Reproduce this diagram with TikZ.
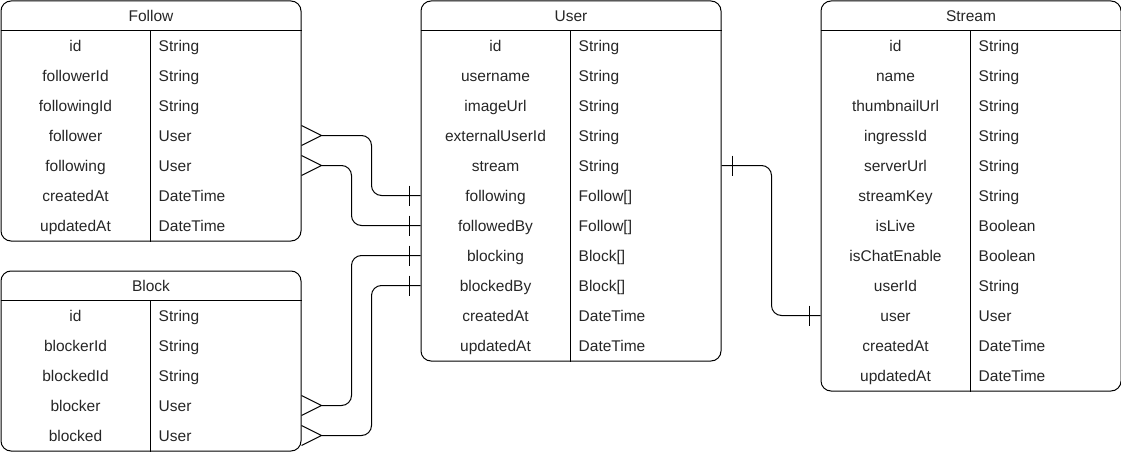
\documentclass[tikz,border=0pt]{standalone}
\usepackage{fontspec}
\setmainfont{Liberation Sans}
\usetikzlibrary{calc}
\tikzset{
  tbl/.style={draw=black, line width=1pt, rounded corners=10pt, minimum width=300pt, inner sep=0pt, anchor=north west},
  txt/.style={inner sep=0pt, anchor=base, yshift=-5.6pt, text=black!85, font=\fontsize{15.5}{18}\selectfont},
  conn/.style={draw=black, line width=1pt, rounded corners=10pt},
  mark1/.style={draw=black, line width=1pt},
}
\newcommand\ertable[5]{%
  \node[tbl, minimum height=#4pt] (#1) at (#3) {};
  \coordinate (#1-r0) at ($(#1.north)+(0,15)$);
  \node[txt] (#1-title) at (#1-r0) {#2};
  \draw[line width=1pt] ($(#1.north west)+(0,30)$) -- ($(#1.north east)+(0,30)$);
  \draw[line width=1pt] ($(#1.north west)+(150,30)$) -- ($(#1.south west)+(150,0)$);
  \foreach \n/\t [count=\i] in {#5} {
    \coordinate (#1-r\i) at ($(#1.north west)+(0,15+30*\i)$);
    \node[txt] (#1-n\i) at ($(#1-r\i)+(75,0)$) {\n};
    \node[txt, anchor=base west] (#1-t\i) at ($(#1-r\i)+(158,0)$) {\t};
  }
}
\begin{document}
\begin{tikzpicture}[x=1pt,y=-1pt]
\useasboundingbox (0,0) rectangle (1121,460);
\ertable{Follow}{Follow}{0.5,0.5}{240}{id/String,followerId/String,followingId/String,follower/User,following/User,createdAt/DateTime,updatedAt/DateTime}
\ertable{Block}{Block}{0.5,270.5}{180}{id/String,blockerId/String,blockedId/String,blocker/User,blocked/User}
\ertable{User}{User}{420.5,0.5}{360}{id/String,username/String,imageUrl/String,externalUserId/String,stream/String,following/{Follow[]},followedBy/{Follow[]},blocking/{Block[]},blockedBy/{Block[]},createdAt/DateTime,updatedAt/DateTime}
\ertable{Stream}{Stream}{820.5,0.5}{390}{id/String,name/String,thumbnailUrl/String,ingressId/String,serverUrl/String,streamKey/String,isLive/Boolean,isChatEnable/Boolean,userId/String,user/User,createdAt/DateTime,updatedAt/DateTime}

% Follow.follower -> User.following
\draw[mark1] (Follow.east|-Follow-r4) ++(0,-10) -- ++(20,10) -- ++(-20,10);
\draw[conn] ($(Follow.east|-Follow-r4)+(20,0)$) -- ($(Follow.east|-Follow-r4)+(70,0)$) |- (User.west|-User-r6);
\draw[mark1] ($(User.west|-User-r6)+(-11,-10)$) -- ++(0,20);
% Follow.following -> User.followedBy
\draw[mark1] (Follow.east|-Follow-r5) ++(0,-10) -- ++(20,10) -- ++(-20,10);
\draw[conn] ($(Follow.east|-Follow-r5)+(20,0)$) -- ($(Follow.east|-Follow-r5)+(50,0)$) |- (User.west|-User-r7);
\draw[mark1] ($(User.west|-User-r7)+(-11,-10)$) -- ++(0,20);
% Block.blocker -> User.blocking
\draw[mark1] (Block.east|-Block-r4) ++(0,-10) -- ++(20,10) -- ++(-20,10);
\draw[conn] ($(Block.east|-Block-r4)+(20,0)$) -- ($(Block.east|-Block-r4)+(50,0)$) |- (User.west|-User-r8);
\draw[mark1] ($(User.west|-User-r8)+(-11,-10)$) -- ++(0,20);
% Block.blocked -> User.blockedBy
\draw[mark1] (Block.east|-Block-r5) ++(0,-10) -- ++(20,10) -- ++(-20,10);
\draw[conn] ($(Block.east|-Block-r5)+(20,0)$) -- ($(Block.east|-Block-r5)+(70,0)$) |- (User.west|-User-r9);
\draw[mark1] ($(User.west|-User-r9)+(-11,-10)$) -- ++(0,20);
% User.stream -> Stream.user
\draw[conn] (User.east|-User-r5) -- ($(User.east|-User-r5)+(50,0)$) |- (Stream.west|-Stream-r10);
\draw[mark1] ($(User.east|-User-r5)+(11,-10)$) -- ++(0,20);
\draw[mark1] ($(Stream.west|-Stream-r10)+(-11,-10)$) -- ++(0,20);
\end{tikzpicture}
\end{document}
